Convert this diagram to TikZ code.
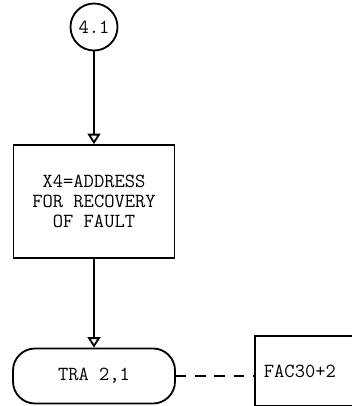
\documentclass[tikz,border=0pt]{standalone}
\usetikzlibrary{arrows.meta}
\begin{document}
\begin{tikzpicture}[x=0.25mm,y=-0.25mm,line width=1.3pt,
  font=\ttfamily\fontsize{14.2pt}{14.2pt}\selectfont,
  flow/.style={-{Triangle[open,length=2.6mm,width=3.2mm]}}]
  \clip (0,0) rectangle (352,406);
  \node[draw,circle,minimum size=11.75mm,inner sep=0pt] (conn) at (94,27) {4.1};
  \node[draw,minimum width=40.25mm,minimum height=28.25mm,align=center] (setaddr) at (94,201.5) {X4=ADDRESS\\FOR RECOVERY\\OF FAULT};
  \node[draw,rounded corners=5.5mm,minimum width=40.5mm,minimum height=13.75mm] (tra) at (94,376) {TRA 2,1};
  \node[draw,anchor=north west,minimum height=17.5mm,text width=30mm,inner xsep=2.25mm,align=left] (fac) at (254,335) {FAC30+2};
  \draw[flow] (conn) -- (setaddr);
  \draw[flow] (setaddr) -- (tra);
  \draw[dash pattern=on 2.6mm off 2.2mm] (tra.east) -- (tra.east -| fac.west);
\end{tikzpicture}
\end{document}
